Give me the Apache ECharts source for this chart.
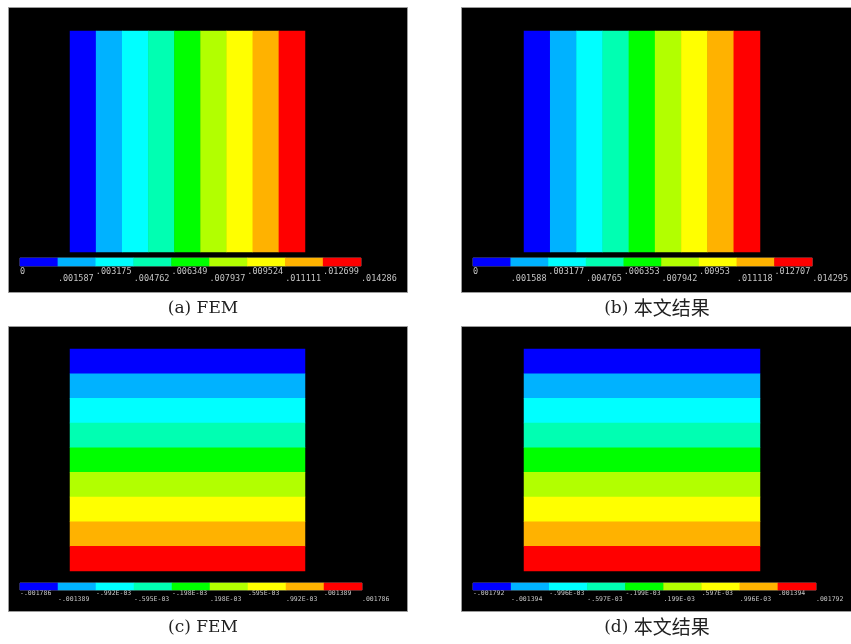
<!DOCTYPE html>
<html><head><meta charset="utf-8">
<script src="https://cdn.jsdelivr.net/npm/echarts@6/dist/echarts.min.js"></script>
<style>html,body{margin:0;padding:0;background:#fff}#c{width:851px;height:644px}</style>
</head><body><div id="c"></div>
<script>
// ANSYS contour colours, one per band
const colors = ['#0000FF','#00B2FF','#00FFFF','#00FFB2','#00FF00','#B2FF00','#FFFF00','#FFB200','#FF0000'];
const bands = ['1','2','3','4','5','6','7','8','9'];

// contour levels (numeric) and their printed labels
const levelsA = [0, 0.001587, 0.003175, 0.004762, 0.006349, 0.007937, 0.009524, 0.011111, 0.012699, 0.014286];
const labelsA = ['0','.001587','.003175','.004762','.006349','.007937','.009524','.011111','.012699','.014286'];
const levelsB = [0, 0.001588, 0.003177, 0.004765, 0.006353, 0.007942, 0.00953, 0.011118, 0.012707, 0.014295];
const labelsB = ['0','.001588','.003177','.004765','.006353','.007942','.00953','.011118','.012707','.014295'];
const levelsC = [-0.001786, -0.001389, -0.000992, -0.000595, -0.000198, 0.000198, 0.000595, 0.000992, 0.001389, 0.001786];
const labelsC = ['-.001786','-.001389','-.992E-03','-.595E-03','-.198E-03','.198E-03','.595E-03','.992E-03','.001389','.001786'];
const levelsD = [-0.001792, -0.001394, -0.000996, -0.000597, -0.000199, 0.000199, 0.000597, 0.000996, 0.001394, 0.001792];
const labelsD = ['-.001792','-.001394','-.996E-03','-.597E-03','-.199E-03','.199E-03','.597E-03','.996E-03','.001394','.001792'];

// field value in each band (band 1 .. band 9)
const fieldA = [0.0008, 0.0024, 0.0040, 0.0056, 0.0071, 0.0087, 0.0103, 0.0119, 0.0135];
const fieldB = [0.0008, 0.0024, 0.0040, 0.0056, 0.0071, 0.0087, 0.0103, 0.0119, 0.0135];
const fieldC = [-0.00159, -0.00119, -0.00079, -0.0004, 0, 0.0004, 0.00079, 0.00119, 0.00159];
const fieldD = [-0.00159, -0.00119, -0.00079, -0.0004, 0, 0.0004, 0.00079, 0.00119, 0.00159];

const captions = ['(a) FEM', '(b) 本文结果', '(c) FEM', '(d) 本文结果'];

const panels = [
  {lv: levelsA, lab: labelsA, val: fieldA, vertical: true,
   bg: [8, 7, 399, 285], field: {left: 70, top: 31, width: 235, height: 221},
   cb: {left: 20, top: 258, width: 341, height: 8}, fs: 8.5, m: [1, 8], cap: [203, 309]},
  {lv: levelsB, lab: labelsB, val: fieldB, vertical: true,
   bg: [461, 7, 392, 285], field: {left: 524, top: 31, width: 236, height: 221},
   cb: {left: 473, top: 258, width: 342, height: 8}, fs: 8.5, m: [1, 8], cap: [657, 309]},
  {lv: levelsC, lab: labelsC, val: fieldC, vertical: false,
   bg: [8, 326, 399, 285], field: {left: 70, top: 349, width: 235, height: 222},
   cb: {left: 20, top: 583, width: 342, height: 7}, fs: 6.5, m: [0, 6], cap: [203, 628]},
  {lv: levelsD, lab: labelsD, val: fieldD, vertical: false,
   bg: [461, 326, 392, 285], field: {left: 524, top: 349, width: 236, height: 222},
   cb: {left: 473, top: 583, width: 343, height: 7}, fs: 6.5, m: [0, 6], cap: [657, 628]}
];

const grid = [], xAxis = [], yAxis = [], series = [], visualMap = [], graphic = [];

panels.forEach((p, k) => {
  grid.push(Object.assign({containLabel: false}, p.field));
  grid.push(Object.assign({containLabel: false, show: true, borderColor: '#666', borderWidth: 1, backgroundColor: 'transparent'}, p.cb));
  const gField = grid.length - 2, gCb = grid.length - 1;

  const fx = xAxis.length, fy = yAxis.length;
  if (p.vertical) {
    xAxis.push({type: 'category', gridIndex: gField, data: bands, show: false});
    yAxis.push({type: 'category', gridIndex: gField, data: [''], show: false});
  } else {
    xAxis.push({type: 'category', gridIndex: gField, data: [''], show: false});
    yAxis.push({type: 'category', gridIndex: gField, data: bands, inverse: true, show: false});
  }
  series.push({
    type: 'heatmap', xAxisIndex: fx, yAxisIndex: fy,
    data: p.val.map((v, i) => p.vertical ? [i, 0, v] : [0, i, v]),
    emphasis: {disabled: true}, silent: true
  });
  const sField = series.length - 1;

  const cx = xAxis.length, cy = yAxis.length;
  xAxis.push({type: 'category', gridIndex: gCb, data: bands, show: false});
  yAxis.push({type: 'category', gridIndex: gCb, data: [''], show: false});
  series.push({
    type: 'heatmap', xAxisIndex: cx, yAxisIndex: cy,
    data: p.val.map((v, i) => [i, 0, v]),
    emphasis: {disabled: true}, silent: true
  });
  const sCb = series.length - 1;

  [0, 1].forEach(row => {
    xAxis.push({
      type: 'value', gridIndex: gCb, position: 'bottom', min: 0, max: 9, interval: 1,
      axisLine: {show: false}, axisTick: {show: false}, splitLine: {show: false},
      axisLabel: {
        show: true, margin: p.m[row], align: 'left', color: '#c4c4c4',
        fontFamily: 'DejaVu Sans Mono', fontSize: p.fs,
        showMinLabel: true, showMaxLabel: true,
        formatter: v => { const i = Math.round(v); return (i % 2 === row) ? p.lab[i] : ''; }
      }
    });
  });

  visualMap.push({
    type: 'piecewise', show: false, dimension: 2, seriesIndex: [sField, sCb],
    pieces: p.lv.slice(0, -1).map((lv, i) => (i === 8
      ? {gte: lv, lte: p.lv[i + 1], color: colors[i]}
      : {gte: lv, lt: p.lv[i + 1], color: colors[i]}))
  });

  graphic.push({
    type: 'rect', z: -10, silent: true,
    shape: {x: p.bg[0] + 0.5, y: p.bg[1] + 0.5, width: p.bg[2], height: p.bg[3]},
    style: {fill: '#000', stroke: '#9a9a9a', lineWidth: 1}
  });

  const cap = captions[k];
  const sp = cap.indexOf(' ');
  const latin = cap.slice(0, sp + 1), rest = cap.slice(sp + 1);
  const isCjk = /[\u4e00-\u9fff]/.test(rest);
  graphic.push({
    type: 'text', x: p.cap[0], y: p.cap[1], silent: true,
    style: {
      text: '{l|' + latin + '}' + (isCjk ? '{c|' + rest + '}' : '{l|' + rest + '}'),
      align: 'center', verticalAlign: 'middle',
      rich: {
        l: {fontFamily: 'DejaVu Serif', fontSize: 17, fill: '#222', verticalAlign: 'middle', lineHeight: 22},
        c: {fontFamily: 'Noto Sans CJK SC', fontSize: 19, fill: '#222', verticalAlign: 'middle', lineHeight: 22, padding: [0, 0, 3, 0]}
      }
    }
  });
});

const chart = echarts.init(document.getElementById('c'), null, {renderer: 'canvas'});
chart.setOption({
  backgroundColor: '#fff',
  animation: false,
  grid, xAxis, yAxis, series, visualMap, graphic
});
</script>
</body></html>
